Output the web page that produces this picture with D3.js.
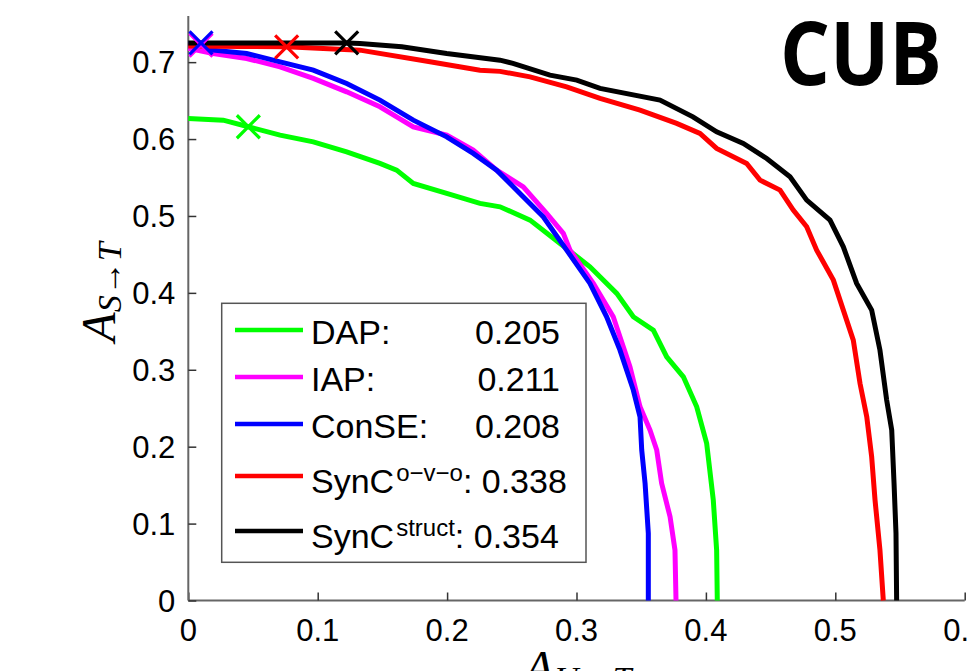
<!DOCTYPE html>
<html>
<head>
<meta charset="utf-8">
<script src="https://cdn.jsdelivr.net/npm/d3@7"></script>
<style>
  body { margin: 0; background: #fff; }
  svg { display: block; }
  .tick-label { font-family: "Liberation Sans", Arial, sans-serif; font-size: 31px; fill: #000; }
  .legend text { font-family: "Liberation Sans", Arial, sans-serif; font-size: 34px; fill: #000; }
  .axis-title { font-family: "Liberation Serif", "DejaVu Serif", serif; font-style: italic; fill: #000; }
  .curve { fill: none; stroke-width: 5; stroke-linejoin: miter; }
</style>
</head>
<body>
<script>
// values: [recall on unseen, recall on seen]
var dap = [[0,0.6268],[0.027,0.6246],[0.0464,0.616],[0.0709,0.6051],[0.0966,0.5964],[0.1224,0.5834],
  [0.1481,0.5683],[0.161,0.5596],[0.1739,0.5423],[0.1997,0.5293],[0.2254,0.5163],[0.2409,0.5119],
  [0.2641,0.4946],[0.2873,0.4643],[0.3104,0.4339],[0.3311,0.3993],[0.3439,0.3689],[0.3594,0.3516],
  [0.3697,0.3169],[0.3826,0.2909],[0.3929,0.2519],[0.4006,0.2043],[0.4057,0.1306],[0.4083,0.0656],[0.4088,0]];

var iap = [[0,0.718],[0.0193,0.7113],[0.0451,0.7048],[0.0709,0.6939],[0.0966,0.6788],[0.1224,0.6614],
  [0.1481,0.6419],[0.161,0.6289],[0.1739,0.6159],[0.1997,0.6051],[0.2202,0.5856],[0.2383,0.5596],
  [0.2589,0.5379],[0.2769,0.5033],[0.2898,0.4773],[0.295,0.4556],[0.313,0.4123],[0.3284,0.3689],
  [0.3413,0.3039],[0.3491,0.2519],[0.3568,0.2216],[0.362,0.1956],[0.3658,0.1523],[0.3723,0.1089],
  [0.3761,0.0656],[0.3769,0]];

var conse = [[0,0.724],[0.0098,0.722],[0.0193,0.7156],[0.0451,0.7113],[0.0709,0.7004],[0.0966,0.6896],
  [0.1224,0.6723],[0.1481,0.6506],[0.1739,0.6246],[0.1997,0.6029],[0.2202,0.5813],[0.2383,0.5596],
  [0.2563,0.5293],[0.2743,0.4989],[0.2924,0.4556],[0.3104,0.4123],[0.3233,0.3689],[0.3336,0.3256],
  [0.3439,0.2736],[0.3491,0.2389],[0.3504,0.1956],[0.353,0.1523],[0.3555,0.0874],[0.3555,0]];

var syncOvo = [[0,0.721],[0.04,0.7205],[0.076,0.720],[0.1327,0.7156],[0.1868,0.7004],[0.2254,0.6896],
  [0.2409,0.688],[0.2641,0.6809],[0.2924,0.6679],[0.3182,0.6528],[0.3491,0.6376],[0.3774,0.6203],
  [0.3954,0.6073],[0.4083,0.5878],[0.4315,0.5683],[0.4418,0.5466],[0.4573,0.5336],[0.4675,0.5076],
  [0.4779,0.4859],[0.4856,0.4556],[0.4985,0.4166],[0.5062,0.3776],[0.5139,0.3386],[0.5191,0.2823],
  [0.5243,0.2389],[0.5281,0.1869],[0.5307,0.1306],[0.5345,0.0656],[0.5371,0]];

var syncStruct = [[0,0.725],[0.06,0.725],[0.1224,0.725],[0.1327,0.7243],[0.165,0.72],[0.1997,0.7113],
  [0.2409,0.7026],[0.2509,0.6983],[0.2795,0.6831],[0.3002,0.6766],[0.3182,0.6658],[0.3645,0.6506],
  [0.390,0.6289],[0.4083,0.6094],[0.4289,0.5943],[0.447,0.5748],[0.465,0.5509],[0.4779,0.5206],
  [0.4959,0.4946],[0.5062,0.4599],[0.5165,0.4123],[0.5281,0.3776],[0.5345,0.3256],[0.5397,0.2606],
  [0.5436,0.2216],[0.5454,0.1523],[0.5469,0.0874],[0.5474,0]];

var names = ["DAP:", "IAP:", "ConSE:", "SynC", "SynC"];
var sups = ["", "", "", "o\u2212v\u2212o", "struct"];
var scores = ["0.205", "0.211", "0.208", "0.338", "0.354"];
var colors = ["#00ff00", "#ff00ff", "#0000ff", "#ff0000", "#000000"];
var markX = [0.0464, 0.0098, 0.0098, 0.076, 0.1224];
var markY = [0.616, 0.722, 0.725, 0.720, 0.725];
var xTicks = [0, 0.1, 0.2, 0.3, 0.4, 0.5, 0.6];
var yTicks = [0, 0.1, 0.2, 0.3, 0.4, 0.5, 0.6, 0.7];

var series = [dap, iap, conse, syncOvo, syncStruct];

var W = 967, H = 671;
var x = d3.scaleLinear().domain([0, 0.6]).range([188.3, 964.7]);
var y = d3.scaleLinear().domain([0, 0.76]).range([600.5, 16]);

var svg = d3.select("body").append("svg")
    .attr("width", W)
    .attr("height", H);

// axes, MATLAB style with ticks pointing in
var gx = svg.append("g")
    .attr("transform", `translate(0,${y(0)})`)
    .call(d3.axisTop(x).tickValues(xTicks).tickSize(8).tickFormat(""));
var gy = svg.append("g")
    .attr("transform", `translate(${x(0)},0)`)
    .call(d3.axisRight(y).tickValues(yTicks).tickSize(8).tickFormat(""));
[gx, gy].forEach(function(g) {
  g.select(".domain").attr("stroke", "#666").attr("stroke-width", 2);
  g.selectAll(".tick line").attr("stroke", "#333").attr("stroke-width", 1.5);
});
gx.select(".domain").attr("d", `M${x(0)},0H${x(0.6)}`);
gy.select(".domain").attr("d", `M0,${y(0)}V${y(0.76)}`);

svg.selectAll(".xlab")
  .data(xTicks)
  .enter().append("text")
    .attr("class", "tick-label")
    .attr("x", d => x(d))
    .attr("y", y(0) + 40)
    .attr("text-anchor", "middle")
    .text(d => d3.format("")(d));

svg.selectAll(".ylab")
  .data(yTicks)
  .enter().append("text")
    .attr("class", "tick-label")
    .attr("x", x(0) - 13)
    .attr("y", d => y(d))
    .attr("dy", "0.36em")
    .attr("text-anchor", "end")
    .text(d => d3.format("")(d));

// curves
var line = d3.line().x(d => x(d[0])).y(d => y(d[1]));
svg.selectAll(".curve")
  .data(series)
  .enter().append("path")
    .attr("class", "curve")
    .attr("stroke", (d, i) => colors[i])
    .attr("d", line);

// cross markers
svg.selectAll(".mark")
  .data(markX)
  .enter().append("path")
    .attr("class", "mark")
    .attr("fill", "none")
    .attr("stroke", (d, i) => colors[i])
    .attr("stroke-width", 3.2)
    .attr("d", (d, i) => {
      var cx = x(d), cy = y(markY[i]), r = 11.5;
      return `M${cx - r},${cy - r}L${cx + r},${cy + r}M${cx - r},${cy + r}L${cx + r},${cy - r}`;
    });

// legend
var rowY = [330, 377, 424, 476, 531];
var legend = svg.append("g").attr("class", "legend");
legend.append("rect")
    .attr("x", 221.7).attr("y", 303.3)
    .attr("width", 364.3).attr("height", 259)
    .attr("fill", "#fff")
    .attr("stroke", "#555")
    .attr("stroke-width", 1.5);

names.forEach(function(n, i) {
  legend.append("line")
      .attr("x1", 235).attr("x2", 303)
      .attr("y1", rowY[i]).attr("y2", rowY[i])
      .attr("stroke", colors[i])
      .attr("stroke-width", 4.5);
  var t = legend.append("text")
      .attr("x", 311)
      .attr("y", rowY[i] + (sups[i] ? 16.5 : 13.5));
  t.append("tspan").text(n);
  if (sups[i]) {
    t.append("tspan")
        .attr("dx", 2)
        .attr("dy", -12)
        .attr("font-size", "24px")
        .text(sups[i]);
    t.append("tspan")
        .attr("dy", 12)
        .text(": " + scores[i]);
  } else {
    legend.append("text")
        .attr("x", 560)
        .attr("y", rowY[i] + 13.5)
        .attr("text-anchor", "end")
        .text(scores[i]);
  }
});

// axis titles
var yt = svg.append("text")
    .attr("class", "axis-title")
    .attr("transform", "translate(115,292) rotate(-90)")
    .attr("text-anchor", "middle");
yt.append("tspan").attr("font-size", "48px").text("A");
yt.append("tspan").attr("font-size", "34px").attr("dy", 6).text("S\u2192T");

var xt = svg.append("text")
    .attr("class", "axis-title")
    .attr("x", 578)
    .attr("y", 684)
    .attr("text-anchor", "middle");
xt.append("tspan").attr("font-size", "48px").text("A");
xt.append("tspan").attr("font-size", "34px").attr("dy", 6).text("U\u2192T");

// dataset tag
svg.append("text")
    .attr("x", 780)
    .attr("y", 85)
    .attr("font-family", "'Open Sans', sans-serif")
    .attr("font-weight", 700)
    .attr("font-size", "88px")
    .attr("textLength", 162)
    .attr("lengthAdjust", "spacingAndGlyphs")
    .text("CUB");
</script>
</body>
</html>
